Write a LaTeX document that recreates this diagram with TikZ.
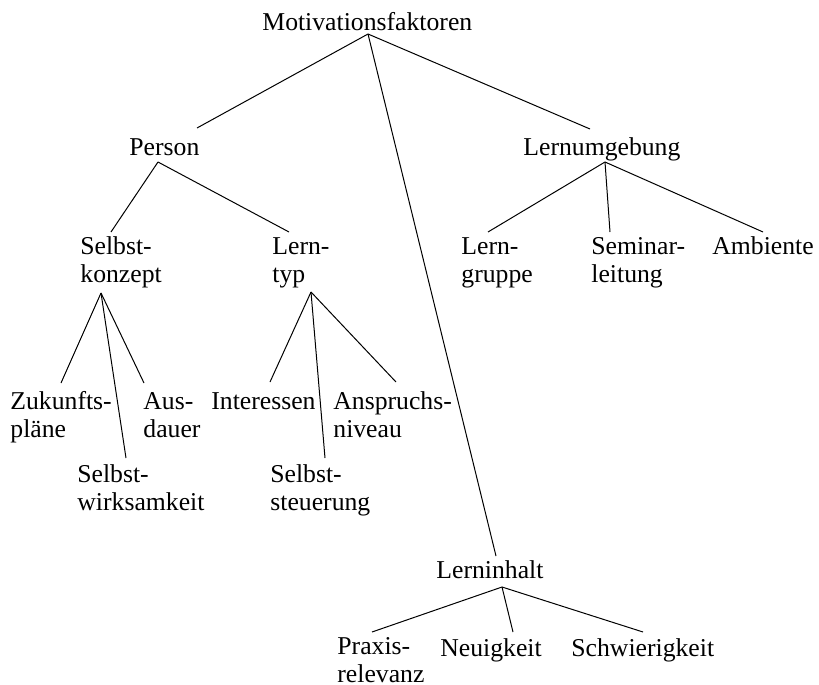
\documentclass[tikz,border=0pt]{standalone}
\usepackage{fontspec}
\setmainfont{Liberation Serif}

\begin{document}
\begin{tikzpicture}[x=0.5pt, y=-0.5pt,
    every node/.style={inner sep=0pt, anchor=base west, align=left,
                       font=\fontsize{12.85pt}{14pt}\selectfont},
    ast/.style={line width=0.5pt}]
    \useasboundingbox (0,0) rectangle (819,685);

    % root and first level
    \node (motiv) at (262,30) {Motivationsfaktoren};
    \node (person) at (129,155) {Person};
    \node (umgebung) at (523,155) {Lernumgebung};
    \node (inhalt) at (436,578) {Lerninhalt};

    % second level (two-line nodes sit on their last line)
    \node (konzept) at (80,282) {Selbst-\\konzept};
    \node (lerntyp) at (272,282) {Lern-\\typ};
    \node (gruppe) at (461,282) {Lern-\\gruppe};
    \node (leitung) at (591,282) {Seminar-\\leitung};
    \node (ambiente) at (712,254) {Ambiente};

    % leaves
    \node (zukunft) at (10,437) {Zukunfts-\\pläne};
    \node (ausdauer) at (143,437) {Aus-\\dauer};
    \node (wirksam) at (77,510) {Selbst-\\wirksamkeit};
    \node (interesse) at (211,409) {Interessen};
    \node (anspruch) at (333,437) {Anspruchs-\\niveau};
    \node (steuerung) at (270,510) {Selbst-\\steuerung};
    \node (praxis) at (337,682) {Praxis-\\relevanz};
    \node (neu) at (440,656) {Neuigkeit};
    \node (schwer) at (571,656) {Schwierigkeit};

    \draw[ast] ([shift={(106,4)}]motiv.base west) -- ([shift={(68,-27)}]person.base west);
    \draw[ast] ([shift={(106,4)}]motiv.base west) -- ([shift={(67,-26)}]umgebung.base west);
    \draw[ast] ([shift={(106,4)}]motiv.base west) -- ([shift={(60,-22)}]inhalt.base west);

    \draw[ast] ([shift={(29,7)}]person.base west) -- ([shift={(31,-50)}]konzept.base west);
    \draw[ast] ([shift={(29,7)}]person.base west) -- ([shift={(17,-50)}]lerntyp.base west);

    \draw[ast] ([shift={(82,7)}]umgebung.base west) -- ([shift={(27,-50)}]gruppe.base west);
    \draw[ast] ([shift={(82,7)}]umgebung.base west) -- ([shift={(19,-50)}]leitung.base west);
    \draw[ast] ([shift={(82,7)}]umgebung.base west) -- ([shift={(51,-22)}]ambiente.base west);

    \draw[ast] ([shift={(21,11)}]konzept.base west) -- ([shift={(51,-54)}]zukunft.base west);
    \draw[ast] ([shift={(21,11)}]konzept.base west) -- ([shift={(49,-52)}]wirksam.base west);
    \draw[ast] ([shift={(21,11)}]konzept.base west) -- ([shift={(1,-54)}]ausdauer.base west);

    \draw[ast] ([shift={(39,10)}]lerntyp.base west) -- ([shift={(59,-27)}]interesse.base west);
    \draw[ast] ([shift={(39,10)}]lerntyp.base west) -- ([shift={(55,-52)}]steuerung.base west);
    \draw[ast] ([shift={(39,10)}]lerntyp.base west) -- ([shift={(63,-55)}]anspruch.base west);

    \draw[ast] ([shift={(66,9)}]inhalt.base west) -- ([shift={(35,-50)}]praxis.base west);
    \draw[ast] ([shift={(66,9)}]inhalt.base west) -- ([shift={(73,-24)}]neu.base west);
    \draw[ast] ([shift={(66,9)}]inhalt.base west) -- ([shift={(72,-24)}]schwer.base west);
\end{tikzpicture}
\end{document}
